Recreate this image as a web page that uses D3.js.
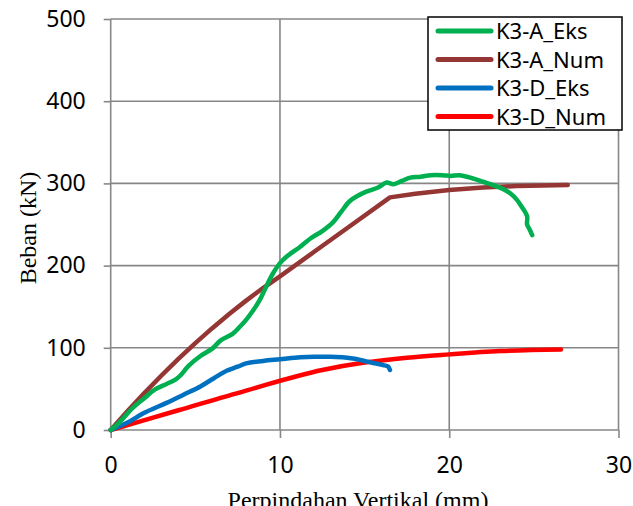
<!DOCTYPE html>
<html>
<head>
<meta charset="utf-8">
<script src="https://cdn.jsdelivr.net/npm/d3@7"></script>
<style>
  body { margin: 0; background: #fff; }
  svg { display: block; }
</style>
</head>
<body>
<div id="chart"></div>
<script>
// data (x = displacement mm, y = load kN)
var seriesNames = ["K3-A_Eks", "K3-A_Num", "K3-D_Eks", "K3-D_Num"];
var seriesColors = ["#00b050", "#943634", "#0070c0", "#ff0000"];

var k3aEks = [[0,0],[0.5,9],[1.3,27],[2,39],[2.6,49],[3.3,56],[3.8,61],[4.1,66],[4.6,78],[5.3,90],[6,99],[6.5,109],
  [7.2,117],[7.6,125],[8,134],[8.4,145],[8.8,158],[9.2,175],[9.6,191],[10,203],[10.4,211],[11.2,223],[11.8,233],
  [12.5,242],[13.1,252],[13.6,265],[14.1,278],[14.6,285],[15.1,290],[15.8,295],[16.3,301],[16.7,299],[17.2,303],
  [17.7,307],[18.3,308],[18.9,310],[19.6,310],[20.1,309],[20.6,310],[21.4,306],[22,302],[22.6,298],[23.2,293],
  [23.6,288],[24,280],[24.2,274],[24.6,260],[24.6,250],[24.75,244],[24.9,237]];
var k3aNum = [[0,0],[1,23.1],[2,45.2],[3,66.3],[4,86.5],[5,105.7],[6,123.9],[7,141.1],[8,157.4],[9,172.7],[10,187],
  [12,216.5],[14,246],[16.5,283],[18,287.5],[20,292],[22,295],[24,296.8],[27,298]];
var k3dEks = [[0,0],[1,9],[1.9,20],[3.3,33],[4.3,43],[5.3,53],[6.1,63],[6.85,72],[7.5,77],[8,81],[9,84],[10,86],
  [11.2,88.5],[12,89],[12.95,89],[13.7,88.5],[14.3,87],[15,84],[15.5,81.5],[16.1,79],[16.4,77],[16.5,73]];
var k3dNum = [[0,0],[4,24],[8,48],[12.5,73],[15,82],[17.5,88],[20,92],[23,96],[26.6,98]];

var xTicks = [0, 10, 20, 30];
var yTicks = [0, 100, 200, 300, 400, 500];

var margin = {top: 19, right: 14.5, bottom: 76, left: 110.7},
    width = 633 - margin.left - margin.right,
    height = 506 - margin.top - margin.bottom;

var x = d3.scaleLinear().domain([0, 30]).range([0, width]);
var y = d3.scaleLinear().domain([0, 500]).range([height, 0]);

var svg = d3.select("#chart").append("svg")
    .attr("width", 633)
    .attr("height", 506);
var g = svg.append("g")
    .attr("transform", "translate(" + margin.left + "," + margin.top + ")");

var gridColor = "#878787";
var tickFont = "'Noto Sans', sans-serif";

// gridlines
g.append("g")
    .selectAll("line.hgrid").data(yTicks).enter().append("line")
    .attr("x1", 0).attr("x2", width)
    .attr("y1", function(d) { return y(d); }).attr("y2", function(d) { return y(d); })
    .style("stroke", gridColor).style("stroke-width", 1.6);
g.append("g")
    .selectAll("line.vgrid").data(xTicks).enter().append("line")
    .attr("y1", 0).attr("y2", height)
    .attr("x1", function(d) { return x(d); }).attr("x2", function(d) { return x(d); })
    .style("stroke", gridColor).style("stroke-width", 1.6);

// axes
var yAxis = g.append("g")
    .call(d3.axisLeft(y).tickValues(yTicks).tickSize(7).tickPadding(18));
var xAxis = g.append("g")
    .attr("transform", "translate(0," + height + ")")
    .call(d3.axisBottom(x).tickValues(xTicks).tickSize(8).tickPadding(19));
[yAxis, xAxis].forEach(function(a) {
    a.select(".domain").remove();
    a.selectAll("line").style("stroke", gridColor).style("stroke-width", 1.6);
    a.selectAll("text").style("font-family", tickFont).style("font-size", "23px").style("fill", "#000");
});

// lines
var lineSmooth = d3.line()
    .x(function(d) { return x(d[0]); })
    .y(function(d) { return y(d[1]); })
    .curve(d3.curveMonotoneX);
var lineLoose = d3.line()
    .x(function(d) { return x(d[0]); })
    .y(function(d) { return y(d[1]); })
    .curve(d3.curveCatmullRom);
var lineStraight = d3.line()
    .x(function(d) { return x(d[0]); })
    .y(function(d) { return y(d[1]); });

var allSeries = [k3aEks, k3aNum, k3dEks, k3dNum];
var gens = [lineLoose, lineStraight, lineSmooth, lineSmooth];
// numeric lines under, experimental on top
[k3dNum, k3aNum, k3dEks, k3aEks].forEach(function(s) {
    var i = allSeries.indexOf(s);
    g.append("path")
        .datum(s)
        .attr("fill", "none")
        .style("stroke", seriesColors[i])
        .style("stroke-width", 4.5)
        .style("stroke-linecap", "round")
        .style("stroke-linejoin", "round")
        .attr("d", gens[i]);
});

// legend
var lg = svg.append("g").attr("transform", "translate(428,17)");
lg.append("rect")
    .attr("width", 194).attr("height", 113)
    .style("fill", "#fff").style("stroke", "#000").style("stroke-width", 1.5);
seriesNames.forEach(function(name, i) {
    var cy = 14 + i * 28.5;
    lg.append("line")
        .attr("x1", 10).attr("x2", 63).attr("y1", cy).attr("y2", cy)
        .style("stroke", seriesColors[i]).style("stroke-width", 5).style("stroke-linecap", "round");
    lg.append("text")
        .attr("x", 68).attr("y", cy + 8)
        .style("font-family", tickFont).style("font-size", "22px")
        .text(name);
});

// axis titles (x title is cut by the bottom edge, as in the original)
svg.append("text")
    .attr("transform", "translate(36,228) rotate(-90)")
    .attr("text-anchor", "middle")
    .style("font-family", "'Liberation Serif', serif")
    .style("font-size", "24px")
    .text("Beban (kN)");
svg.append("text")
    .attr("x", 358).attr("y", 508)
    .attr("text-anchor", "middle")
    .style("font-family", "'Liberation Serif', serif")
    .style("font-size", "24px")
    .text("Perpindahan Vertikal (mm)");
</script>
</body>
</html>
